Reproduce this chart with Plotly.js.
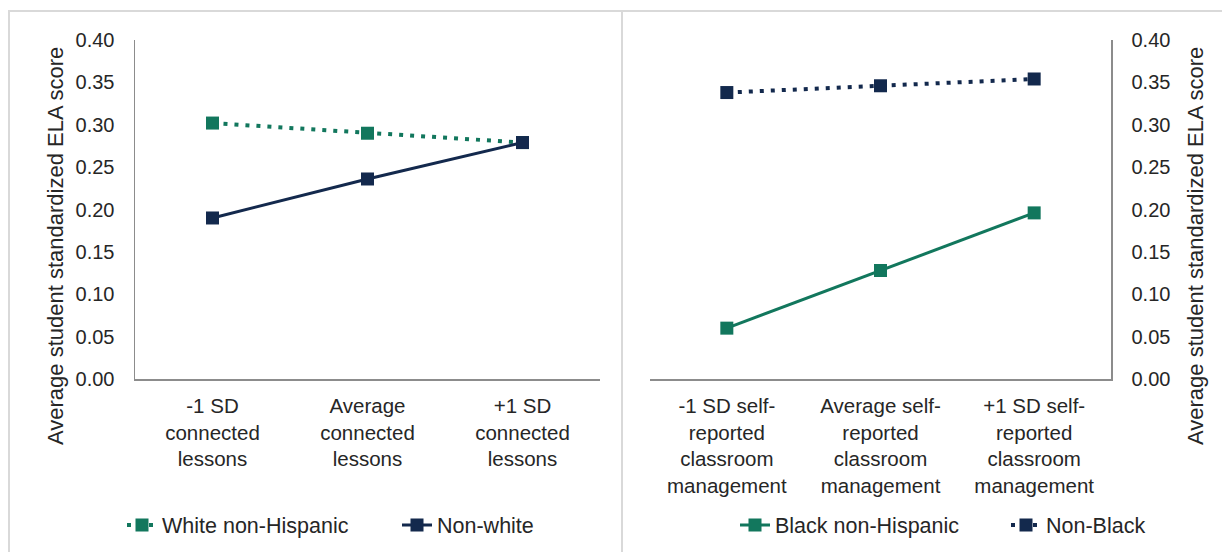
<!DOCTYPE html>
<html>
<head>
<meta charset="utf-8">
<script src="https://cdn.plot.ly/plotly-3.0.1.min.js"></script>
<style>
  html, body { margin: 0; padding: 0; background: #ffffff; }
  #chart { width: 1222px; height: 552px; }
</style>
</head>
<body>
<div id="chart"></div>
<script>
// Categories for each panel
const connectedCats = ['-1 SD<br>connected<br>lessons', 'Average<br>connected<br>lessons', '+1 SD<br>connected<br>lessons'];
const managementCats = ['-1 SD self-<br>reported<br>classroom<br>management', 'Average self-<br>reported<br>classroom<br>management', '+1 SD self-<br>reported<br>classroom<br>management'];

// Average standardized ELA scores by group
const whiteNonHispanic = [0.302, 0.290, 0.279];
const nonWhite = [0.190, 0.236, 0.279];
const blackNonHispanic = [0.060, 0.128, 0.196];
const nonBlack = [0.338, 0.346, 0.354];

const yTickVals = [0, 0.05, 0.10, 0.15, 0.20, 0.25, 0.30, 0.35, 0.40];
const axisTitle = 'Average student standardized ELA score';

const GREEN = '#12775d';
const NAVY = '#13294d';
const FONT = 'Liberation Sans, Arial, sans-serif';
const TEXT = '#262626';

const W = 1222, H = 552;
const px = v => v / W;
const py = v => (H - v) / H;

// One legend per series so each entry can be placed on its own
const traces = [
  {
    x: connectedCats, y: whiteNonHispanic, name: 'White non-Hispanic',
    type: 'scatter', mode: 'lines+markers', xaxis: 'x', yaxis: 'y', legend: 'legend',
    line: { color: GREEN, width: 4, dash: '4px,7px' },
    marker: { symbol: 'square', size: 13, color: GREEN },
    cliponaxis: false
  },
  {
    x: connectedCats, y: nonWhite, name: 'Non-white',
    type: 'scatter', mode: 'lines+markers', xaxis: 'x', yaxis: 'y', legend: 'legend2',
    line: { color: NAVY, width: 3 },
    marker: { symbol: 'square', size: 13, color: NAVY },
    cliponaxis: false
  },
  {
    x: managementCats, y: blackNonHispanic, name: 'Black non-Hispanic',
    type: 'scatter', mode: 'lines+markers', xaxis: 'x2', yaxis: 'y2', legend: 'legend3',
    line: { color: GREEN, width: 3 },
    marker: { symbol: 'square', size: 13, color: GREEN },
    cliponaxis: false
  },
  {
    x: managementCats, y: nonBlack, name: 'Non-Black',
    type: 'scatter', mode: 'lines+markers', xaxis: 'x2', yaxis: 'y2', legend: 'legend4',
    line: { color: NAVY, width: 4, dash: '4px,7px' },
    marker: { symbol: 'square', size: 13, color: NAVY },
    cliponaxis: false
  }
];

const yDomain = [py(379), py(40)];

function yAxis(side, anchor) {
  return {
    domain: yDomain, anchor: anchor, side: side,
    range: [0, 0.4], tickvals: yTickVals, tickformat: '.2f',
    showgrid: false, zeroline: false, showline: true,
    linecolor: '#8c8c8c', linewidth: 1.5, ticks: '',
    ticklabelstandoff: 15,
    tickfont: { family: FONT, size: 20, color: TEXT },
    fixedrange: true
  };
}

function xAxis(domain, anchor) {
  return {
    domain: domain, anchor: anchor, type: 'category',
    range: [-0.5, 2.5],
    showgrid: false, zeroline: false, showline: true,
    linecolor: '#8c8c8c', linewidth: 1.5, ticks: '',
    ticklabelstandoff: 8,
    tickfont: { family: FONT, size: 20.5, color: TEXT },
    fixedrange: true
  };
}

function legendAt(leftPx) {
  return {
    orientation: 'h', xref: 'paper', yref: 'paper',
    x: px(leftPx), xanchor: 'left',
    yanchor: 'middle', y: py(525),
    font: { family: FONT, size: 21.5, color: TEXT },
    bgcolor: 'rgba(0,0,0,0)', itemclick: false, itemdoubleclick: false
  };
}

const borderColor = '#d9d9d9';

const layout = {
  width: W, height: H,
  margin: { l: 0, r: 0, t: 0, b: 0 },
  paper_bgcolor: '#ffffff', plot_bgcolor: '#ffffff',
  font: { family: FONT, color: TEXT },
  xaxis: xAxis([px(135), px(600)], 'y'),
  yaxis: yAxis('left', 'x'),
  xaxis2: xAxis([px(650), px(1111)], 'y2'),
  yaxis2: yAxis('right', 'x2'),
  showlegend: true,
  legend: legendAt(122),
  legend2: legendAt(397),
  legend3: legendAt(735),
  legend4: legendAt(1006),
  annotations: [
    {
      text: axisTitle, textangle: -90, showarrow: false,
      xref: 'paper', yref: 'paper', x: px(55), y: py(246),
      xanchor: 'center', yanchor: 'middle',
      font: { family: FONT, size: 22, color: TEXT }
    },
    {
      text: axisTitle, textangle: -90, showarrow: false,
      xref: 'paper', yref: 'paper', x: px(1195), y: py(246),
      xanchor: 'center', yanchor: 'middle',
      font: { family: FONT, size: 22, color: TEXT }
    }
  ],
  shapes: [
    { type: 'line', xref: 'paper', yref: 'paper', x0: px(8), x1: 1, y0: py(11), y1: py(11),
      line: { color: borderColor, width: 2 } },
    { type: 'line', xref: 'paper', yref: 'paper', x0: px(9), x1: px(9), y0: 0, y1: py(11),
      line: { color: borderColor, width: 2 } },
    { type: 'line', xref: 'paper', yref: 'paper', x0: px(622), x1: px(622), y0: 0, y1: py(11),
      line: { color: borderColor, width: 2 } }
  ]
};

Plotly.newPlot('chart', traces, layout, { displayModeBar: false, staticPlot: true });
</script>
</body>
</html>
